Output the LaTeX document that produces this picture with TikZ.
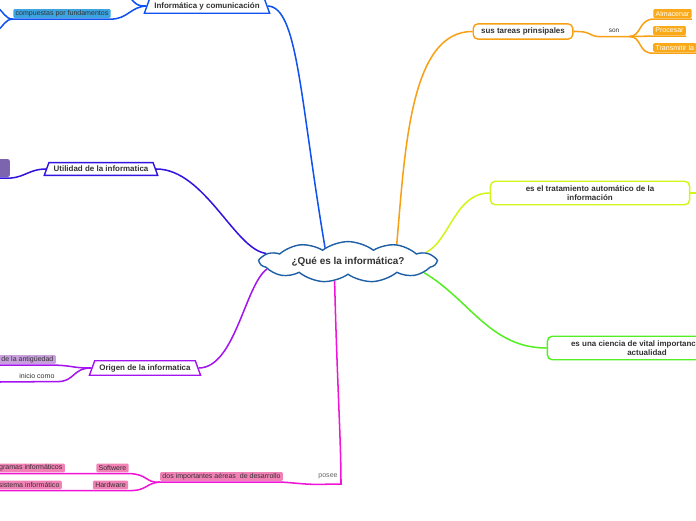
\documentclass[tikz,border=0pt]{standalone}
\usepackage{fontspec}
\setmainfont{Liberation Sans}
\usetikzlibrary{positioning, shapes.geometric, shapes.symbols, backgrounds}

\definecolor{azulrama}{RGB}{16,82,240}
\definecolor{violetarama}{RGB}{50,20,225}
\definecolor{moradorama}{RGB}{165,20,240}
\definecolor{rosarama}{RGB}{240,20,215}
\definecolor{naranjarama}{RGB}{248,160,20}
\definecolor{limarama}{RGB}{210,245,25}
\definecolor{verderama}{RGB}{85,238,35}
\definecolor{bordenube}{RGB}{30,95,165}
\definecolor{textogris}{RGB}{50,50,50}
\definecolor{celeste}{RGB}{60,165,225}
\definecolor{lilaoscuro}{RGB}{125,100,175}
\definecolor{lila}{RGB}{200,160,222}
\definecolor{rosa}{RGB}{242,130,182}
\definecolor{naranja}{RGB}{250,170,25}

\begin{document}
\begin{tikzpicture}[x=0.03cm, y=-0.03cm]
		% Estilos
		\tikzset{
			nube/.style={shape=cloud, cloud puffs=11, cloud puff arc=75, aspect=6, draw=bordenube, line width=1.2pt, fill=white, minimum width=150pt, minimum height=22pt, inner sep=0pt, font=\fontsize{8.5}{10}\selectfont\bfseries, text=textogris},
			trapecio/.style={trapezium, trapezium left angle=70, trapezium right angle=70, draw, line width=1.2pt, fill=white, inner xsep=4pt, inner ysep=3pt, font=\fontsize{6.8}{8}\selectfont\bfseries, text=textogris},
			caja/.style={draw, line width=1.2pt, rounded corners=4pt, fill=white, align=center, font=\fontsize{6.8}{8}\selectfont\bfseries, text=textogris},
			etiqueta/.style={fill=#1, rounded corners=1pt, inner xsep=2pt, inner ysep=1pt, minimum height=7.5pt, outer ysep=1pt, font=\fontsize{6}{7}\selectfont, text=textogris},
			texto/.style={inner xsep=2pt, inner ysep=1pt, minimum height=7.5pt, outer ysep=1pt, font=\fontsize{6}{7}\selectfont, text=textogris},
			conector/.style={line width=1.3pt, draw=#1}
		}
		
		\useasboundingbox (0,0) rectangle (696,520);
		\clip (0,0) rectangle (696,520);
		
		% Idea central
		\node[nube] (centro) at (348,262) {¿Qué es la informática?};
		
		% Rama azul: Informática y comunicación
		\node[trapecio, draw=azulrama] (info) at (207,6) {Informática y comunicación};
		\node[etiqueta=celeste] (comp) at (62,13.5) {compuestas por fundamentos};
		\coordinate (infoArriba) at (124,-6);
		\coordinate (compArriba) at (-4,6);
		\coordinate (compAbajo) at (-4,32);
		
		% Rama violeta: Utilidad
		\node[trapecio, draw=violetarama] (util) at (101,169) {Utilidad de la informatica};
		\node[fill=lilaoscuro, rounded corners=2pt, minimum width=13.6pt, minimum height=15.3pt, inner sep=0pt, outer ysep=1pt] (utilHijo) at (2,168) {};
		
		% Rama morada: Origen
		\node[trapecio, draw=moradorama] (origen) at (145,368) {Origen de la informatica};
		\node[etiqueta=lila, anchor=east] (antig) at (56,359.5) {de la antigüedad};
		\node[texto, anchor=east] (inicio) at (57,376) {inicio como};
		\coordinate (inicioFin) at (-2,382);
		
		% Rama rosa: posee
		\coordinate (poseeJ) at (341,484);
		\node[texto, text=black!60, outer ysep=3pt] (posee) at (328,476.5) {posee};
		\node[etiqueta=rosa] (dos) at (221.5,476.5) {dos importantes aéreas\ \ de desarrollo};
		\node[etiqueta=rosa] (soft) at (112.5,468) {Softwere};
		\node[etiqueta=rosa] (hard) at (110.5,485) {Hardware};
		\node[etiqueta=rosa, anchor=east] (gramas) at (65,468) {gramas informáticos};
		\node[etiqueta=rosa, anchor=east] (sistema) at (62,485) {sistema informático};
		
		% Rama naranja: tareas
		\node[caja, draw=naranjarama, minimum width=85pt, minimum height=12.5pt] (tareas) at (523,31.5) {sus tareas prinsipales};
		\node[texto, font=\fontsize{5.5}{6}\selectfont, minimum width=25.5pt] (son) at (614,31) {son};
		\node[etiqueta=naranja, text=white] (alm) at (672.5,13.5) {Almacenar};
		\node[etiqueta=naranja, text=white] (proc) at (669.5,30.5) {Procesar};
		\node[etiqueta=naranja, text=white, anchor=west] (trans) at (653,47.5) {Transmitir la};
		
		% Rama lima y rama verde
		\node[caja, draw=limarama, minimum width=170pt, minimum height=20pt] (trat) at (590,193) {es el tratamiento automático de la\\información};
		\coordinate (tratFin) at (700,193);
		\node[caja, draw=verderama, minimum width=170pt, minimum height=20pt] (ciencia) at (647,348) {es una ciencia de vital importancia en la\\actualidad};
		
		% Conectores
		\begin{pgfonlayer}{background}
			\draw[conector=azulrama] (centro.148) .. controls (300,100) and (298,7) .. (info.east);
			\draw[conector=azulrama] (info.west) .. controls (133,7) and (134,-2) .. (infoArriba);
			\draw[conector=azulrama] (info.west) .. controls (130,7) and (128,19) .. (comp.south east) -- (comp.south west);
			\draw[conector=azulrama] (comp.south west) .. controls (5,19) and (4,12) .. (compArriba);
			\draw[conector=azulrama] (comp.south west) .. controls (5,19) and (4,26) .. (compAbajo);
			
			\draw[conector=violetarama] (centro.174) .. controls (235,250) and (205,169) .. (util.east);
			\draw[conector=violetarama] (util.west) .. controls (30,169) and (25,177) .. (utilHijo.south east) -- (utilHijo.south west);
			
			\draw[conector=moradorama] (centro.185) .. controls (245,285) and (235,368) .. (origen.east);
			\draw[conector=moradorama] (origen.west) .. controls (72,368) and (75,366) .. (antig.south east) -- (antig.south west);
			\draw[conector=moradorama] (origen.west) .. controls (72,368) and (75,382) .. (inicio.south east) -- (inicioFin);
			
			\draw[conector=rosarama] (centro.235) .. controls (337,380) and (341,440) .. (poseeJ) -- (posee.south west) .. controls (300,484) and (296,483) .. (dos.south east) -- (dos.south west);
			\draw[conector=rosarama] (dos.south west) .. controls (145,483) and (148,474) .. (soft.south east) -- (soft.south west) -- (gramas.south east) -- (gramas.south west);
			\draw[conector=rosarama] (dos.south west) .. controls (145,483) and (148,491) .. (hard.south east) -- (hard.south west) -- (sistema.south east) -- (sistema.south west);
			
			\draw[conector=naranjarama] (centro.20) .. controls (405,150) and (410,31) .. (tareas.west);
			\draw[conector=naranjarama] (tareas.east) .. controls (592,31) and (588,36) .. (son.south west) -- (son.south east);
			\draw[conector=naranjarama] (son.south east) .. controls (642,36) and (638,20) .. (alm.south west) -- (alm.south east);
			\draw[conector=naranjarama] (son.south east) -- (proc.south west) -- (proc.south east);
			\draw[conector=naranjarama] (son.south east) .. controls (642,36) and (638,54) .. (trans.south west) -- (trans.south east);
			
			\draw[conector=limarama] (centro.7) .. controls (450,240) and (455,193) .. (trat.west);
			\draw[conector=limarama] (trat.east) -- (tratFin);
			
			\draw[conector=verderama] (centro.352) .. controls (470,300) and (490,348) .. (ciencia.west);
		\end{pgfonlayer}
		
	\end{tikzpicture}
\end{document}
